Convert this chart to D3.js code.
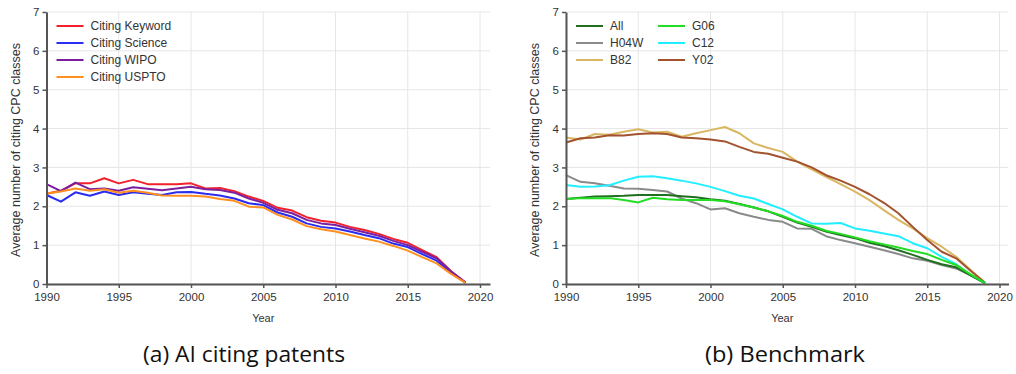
<!DOCTYPE html>
<html><head><meta charset="utf-8">
<script src="https://cdn.jsdelivr.net/npm/d3@7/dist/d3.min.js"></script>
<style>body{margin:0;background:#fff;}svg{display:block;}</style>
</head><body><svg id="c" width="1016" height="374"></svg>
<script>
const years = d3.range(1990, 2020);
// Panel (a) AI citing patents
const citingKeyword = [2.32,2.40,2.59,2.59,2.72,2.59,2.68,2.57,2.57,2.57,2.59,2.46,2.47,2.39,2.25,2.14,1.96,1.89,1.72,1.63,1.58,1.47,1.39,1.29,1.16,1.06,0.87,0.69,0.33,0.04];
const citingScience = [2.29,2.12,2.36,2.27,2.38,2.29,2.36,2.32,2.29,2.36,2.37,2.32,2.28,2.20,2.08,2.03,1.84,1.73,1.56,1.47,1.43,1.35,1.26,1.18,1.04,0.95,0.77,0.60,0.29,0.03];
const citingWIPO = [2.57,2.39,2.61,2.44,2.46,2.40,2.49,2.45,2.41,2.46,2.50,2.44,2.42,2.35,2.20,2.09,1.91,1.82,1.65,1.56,1.52,1.42,1.33,1.24,1.11,1.00,0.83,0.66,0.32,0.04];
const citingUSPTO = [2.33,2.38,2.46,2.40,2.44,2.35,2.40,2.35,2.28,2.27,2.27,2.25,2.19,2.14,1.99,1.97,1.78,1.66,1.49,1.41,1.35,1.26,1.17,1.09,0.98,0.86,0.69,0.53,0.26,0.03];
// Panel (b) Benchmark
const all = [2.19,2.22,2.25,2.26,2.27,2.29,2.29,2.29,2.26,2.23,2.18,2.14,2.06,1.97,1.87,1.73,1.58,1.47,1.35,1.26,1.18,1.06,0.98,0.87,0.75,0.62,0.51,0.43,0.22,0.02];
const h04w = [2.80,2.63,2.59,2.53,2.46,2.45,2.42,2.38,2.20,2.08,1.92,1.95,1.82,1.73,1.65,1.60,1.43,1.42,1.23,1.13,1.05,0.96,0.87,0.77,0.66,0.60,0.49,0.40,0.22,0.02];
const b82 = [3.77,3.72,3.86,3.84,3.92,3.98,3.90,3.92,3.79,3.88,3.96,4.04,3.88,3.62,3.50,3.40,3.15,2.95,2.76,2.57,2.38,2.16,1.90,1.65,1.43,1.18,0.96,0.70,0.36,0.03];
const g06 = [2.19,2.21,2.21,2.21,2.16,2.10,2.22,2.18,2.16,2.16,2.16,2.13,2.05,1.97,1.87,1.75,1.60,1.50,1.37,1.29,1.20,1.10,1.02,0.94,0.85,0.77,0.62,0.49,0.25,0.02];
const c12 = [2.55,2.50,2.51,2.54,2.66,2.76,2.77,2.72,2.66,2.59,2.50,2.39,2.27,2.20,2.06,1.92,1.73,1.56,1.55,1.57,1.43,1.37,1.30,1.23,1.05,0.92,0.70,0.51,0.23,0.03];
const y02 = [3.64,3.75,3.77,3.83,3.82,3.86,3.88,3.86,3.77,3.75,3.72,3.67,3.53,3.40,3.35,3.25,3.15,3.00,2.80,2.66,2.50,2.31,2.09,1.82,1.47,1.13,0.83,0.66,0.34,0.03];

const xTicks = [1990,1995,2000,2005,2010,2015,2020];
const yTicks = [0,1,2,3,4,5,6,7];

const panels = [
  {left:46.5, right:490, caption:"(a) AI citing patents", capX:244, legendCols:1,
   series:[
    {name:"Citing Keyword", values:citingKeyword, color:"#f2212b"},
    {name:"Citing Science", values:citingScience, color:"#2a2cf2"},
    {name:"Citing WIPO", values:citingWIPO, color:"#7b1fa0"},
    {name:"Citing USPTO", values:citingUSPTO, color:"#ff8f1f"}],
   drawOrder:[0,1,2,3]},
  {left:566, right:1008.5, caption:"(b) Benchmark", capX:785, legendCols:2,
   series:[
    {name:"All", values:all, color:"#1f6f1f"},
    {name:"H04W", values:h04w, color:"#8a8a8a"},
    {name:"B82", values:b82, color:"#d9b662"},
    {name:"G06", values:g06, color:"#22dd22"},
    {name:"C12", values:c12, color:"#22eeff"},
    {name:"Y02", values:y02, color:"#a3522e"}],
   drawOrder:[1,2,5,4,0,3]}
];

const svg = d3.select("#c");
const plotTop = 12, plotBottom = 284;
const font = "'Liberation Sans', Arial, sans-serif";
const pxPerYear = 14.45;

panels.forEach(p => {
  const x = d3.scaleLinear().domain([1990, 1990 + (p.right - p.left) / pxPerYear]).range([p.left, p.right]);
  const y = d3.scaleLinear().domain([0,7]).range([plotBottom, plotTop]);
  const g = svg.append("g");
  // grid
  g.selectAll(".vg").data(xTicks).enter().append("line")
    .attr("x1", d=>x(d)).attr("x2", d=>x(d)).attr("y1", plotTop).attr("y2", plotBottom)
    .attr("stroke", "#e6e6e6").attr("stroke-width", 1);
  g.selectAll(".hg").data(yTicks).enter().append("line")
    .attr("x1", p.left).attr("x2", p.right).attr("y1", d=>y(d)).attr("y2", d=>y(d))
    .attr("stroke", "#e6e6e6").attr("stroke-width", 1);
  // lines
  const line = d3.line().x((d,i)=>x(years[i])).y(d=>y(d));
  p.drawOrder.forEach(i => {
    const s = p.series[i];
    g.append("path").datum(s.values).attr("d", line)
      .attr("fill","none").attr("stroke", s.color).attr("stroke-width", 2)
      .attr("stroke-linejoin","round");
  });
  // axes
  const xa = g.append("g").attr("transform", `translate(0,${plotBottom})`)
    .call(d3.axisBottom(x).tickValues(xTicks).tickFormat(d3.format("d")).tickSize(4).tickSizeOuter(0));
  const ya = g.append("g").attr("transform", `translate(${p.left},0)`)
    .call(d3.axisLeft(y).tickValues(yTicks).tickFormat(d3.format("d")).tickSize(4).tickSizeOuter(0));
  [xa, ya].forEach(a => {
    a.select(".domain").attr("stroke", "#555").attr("stroke-width", 2);
    a.selectAll(".tick line").attr("stroke", "#555").attr("stroke-width", 1.5);
    a.selectAll("text").attr("font-family", font).attr("font-size", 11.5).attr("fill", "#333");
  });
  xa.selectAll("text").attr("dy", "0.85em");
  // titles
  g.append("text").attr("x", (p.left + p.right)/2 - 5).attr("y", 322)
    .attr("text-anchor","middle").attr("font-family", font).attr("font-size", 11).attr("fill","#333").text("Year");
  g.append("text").attr("transform", `translate(${p.left-27},${(plotTop+plotBottom)/2 + 2}) rotate(-90)`)
    .attr("text-anchor","middle").attr("font-family", font).attr("font-size", 12.5).attr("fill","#333")
    .text("Average number of citing CPC classes");
  g.append("text").attr("x", p.capX).attr("y", 362).attr("text-anchor","middle")
    .attr("font-family", "'Open Sans', 'Noto Sans', sans-serif").attr("font-size", 22).attr("fill","#111")
    .attr("textLength", p.legendCols === 1 ? 202 : 160).attr("lengthAdjust","spacingAndGlyphs")
    .text(p.caption);
  // legend
  p.series.forEach((s, i) => {
    const col = p.legendCols === 1 ? 0 : Math.floor(i / 3);
    const row = p.legendCols === 1 ? i : i % 3;
    const lx = p.left + 10 + col * 82;
    const ly = 26 + row * 17;
    g.append("line").attr("x1", lx).attr("x2", lx + 27).attr("y1", ly).attr("y2", ly)
      .attr("stroke", s.color).attr("stroke-width", 2);
    g.append("text").attr("x", lx + 34).attr("y", ly).attr("dy","0.35em")
      .attr("font-family", font).attr("font-size", 12).attr("fill","#333").text(s.name);
  });
});
</script></body></html>
